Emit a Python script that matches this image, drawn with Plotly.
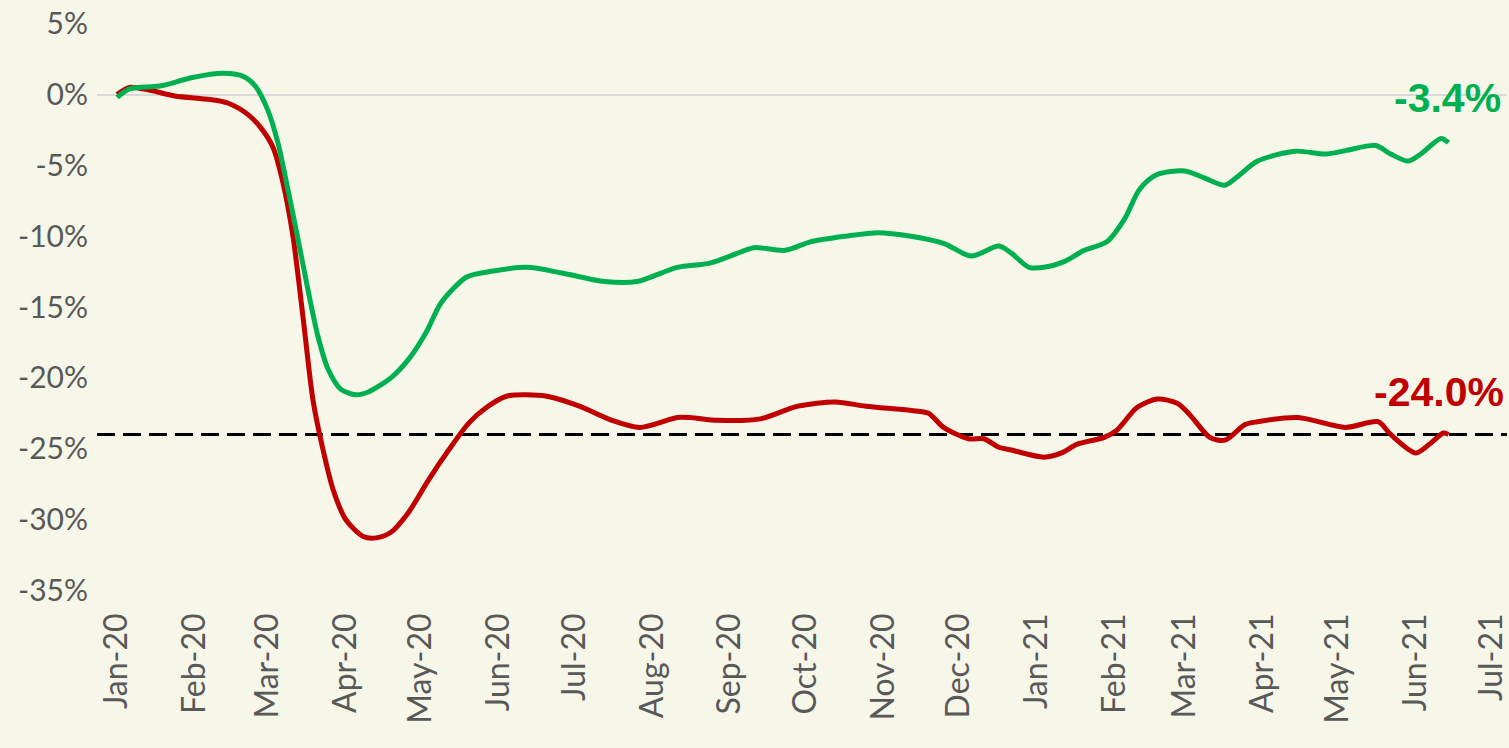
import plotly.graph_objects as go

# ---- data ----
green_dates = ["2020-01-01","2020-01-06","2020-01-18","2020-01-31","2020-02-12","2020-02-20","2020-02-25",
               "2020-03-01","2020-03-05","2020-03-09","2020-03-13","2020-03-17","2020-03-21","2020-03-25",
               "2020-03-30","2020-04-05","2020-04-10","2020-04-19","2020-04-26","2020-05-03","2020-05-09",
               "2020-05-19","2020-05-25","2020-06-12","2020-06-26","2020-07-13","2020-07-26","2020-08-11",
               "2020-08-24","2020-09-07","2020-09-11","2020-09-23","2020-10-03","2020-10-17","2020-10-30",
               "2020-11-12","2020-11-25","2020-12-06","2020-12-17","2020-12-22","2020-12-29","2021-01-04",
               "2021-01-12","2021-01-20","2021-01-29","2021-02-05","2021-02-11","2021-02-18","2021-03-01",
               "2021-03-09","2021-03-17","2021-03-22","2021-03-30","2021-04-14","2021-04-26","2021-05-04",
               "2021-05-16","2021-05-22","2021-05-29","2021-06-03","2021-06-11","2021-06-14"]
green_values = [-0.2,0.4,0.6,1.2,1.5,1.3,0.6,
                -1.1,-3.4,-6.7,-10.2,-13.8,-17.1,-19.4,
                -20.8,-21.2,-21.0,-20.0,-18.7,-16.8,-14.7,
                -12.9,-12.6,-12.2,-12.6,-13.2,-13.2,-12.2,
                -11.9,-11.0,-10.8,-11.0,-10.4,-10.0,-9.75,
                -10.0,-10.5,-11.4,-10.7,-11.2,-12.2,-12.2,
                -11.8,-11.0,-10.4,-8.8,-6.7,-5.65,-5.4,
                -5.9,-6.4,-5.8,-4.7,-4.0,-4.2,-3.96,
                -3.6,-4.2,-4.7,-4.2,-3.1,-3.4]

red_dates = ["2020-01-01","2020-01-06","2020-01-14","2020-01-24","2020-02-07","2020-02-14","2020-02-22",
             "2020-02-27","2020-03-03","2020-03-07","2020-03-11","2020-03-15","2020-03-19","2020-03-23",
             "2020-03-27","2020-04-01","2020-04-08","2020-04-13","2020-04-19","2020-04-26","2020-05-04",
             "2020-05-12","2020-05-20","2020-05-27","2020-06-04","2020-06-20","2020-07-03","2020-07-16",
             "2020-07-27","2020-08-11","2020-08-16","2020-08-27","2020-09-13","2020-09-28","2020-10-13",
             "2020-10-25","2020-11-12","2020-11-19","2020-11-25","2020-12-05","2020-12-11","2020-12-17",
             "2020-12-22","2021-01-04","2021-01-11","2021-01-17","2021-01-28","2021-02-02","2021-02-10",
             "2021-02-18","2021-02-26","2021-03-03","2021-03-11","2021-03-17","2021-03-25","2021-03-30",
             "2021-04-15","2021-05-04","2021-05-17","2021-05-22","2021-06-01","2021-06-07","2021-06-12",
             "2021-06-14"]
red_values = [0.0,0.5,0.3,-0.1,-0.35,-0.6,-1.4,
              -2.3,-3.7,-6.2,-10.0,-15.7,-21.6,-25.1,
              -27.9,-30.0,-31.2,-31.3,-30.9,-29.5,-27.2,
              -25.1,-23.2,-22.1,-21.3,-21.3,-22.0,-23.0,
              -23.5,-22.8,-22.8,-23.0,-22.9,-22.0,-21.7,
              -22.0,-22.3,-22.5,-23.5,-24.3,-24.3,-24.9,
              -25.1,-25.6,-25.3,-24.7,-24.2,-23.7,-22.1,
              -21.5,-21.8,-22.6,-24.2,-24.4,-23.3,-23.1,
              -22.8,-23.5,-23.1,-24.0,-25.3,-24.6,-23.9,
              -24.0]

reference_level = -24.0
green_label = "-3.4%"
red_label = "-24.0%"

y_tick_values = [5, 0, -5, -10, -15, -20, -25, -30, -35]
y_tick_labels = ["5%", "0%", "-5%", "-10%", "-15%", "-20%", "-25%", "-30%", "-35%"]

x_tick_values = ["2020-01-01","2020-02-01","2020-03-01","2020-04-01","2020-05-01","2020-06-01",
                 "2020-07-01","2020-08-01","2020-09-01","2020-10-01","2020-11-01","2020-12-01",
                 "2021-01-01","2021-02-01","2021-03-01","2021-04-01","2021-05-01","2021-06-01",
                 "2021-07-01"]
x_tick_labels = ["Jan-20","Feb-20","Mar-20","Apr-20","May-20","Jun-20","Jul-20","Aug-20","Sep-20",
                 "Oct-20","Nov-20","Dec-20","Jan-21","Feb-21","Mar-21","Apr-21","May-21","Jun-21",
                 "Jul-21"]

GREEN = "#00b050"
RED = "#c00000"
BG = "#f6f6e9"
TICK_COLOR = "#595959"

fig = go.Figure()

fig.add_trace(go.Scatter(x=red_dates, y=red_values, mode="lines",
                         line=dict(color=RED, width=5, shape="spline", smoothing=0.8),
                         hoverinfo="skip", showlegend=False))
fig.add_trace(go.Scatter(x=green_dates, y=green_values, mode="lines",
                         line=dict(color=GREEN, width=5, shape="spline", smoothing=0.8),
                         hoverinfo="skip", showlegend=False))

# dashed reference line across the whole plot
fig.add_shape(type="line", xref="paper", x0=0, x1=1, yref="y", y0=reference_level, y1=reference_level,
              line=dict(color="black", width=3, dash="18px,8px"), layer="below")

fig.add_annotation(x=green_dates[-1], y=green_values[-1], text="<b>%s</b>" % green_label,
                   showarrow=False, xanchor="left", yanchor="middle", yshift=45, xshift=-56,
                   font=dict(family="Liberation Sans", size=41, color=GREEN))
fig.add_annotation(x=red_dates[-1], y=red_values[-1], text="<b>%s</b>" % red_label,
                   showarrow=False, xanchor="left", yanchor="middle", yshift=42, xshift=-76,
                   font=dict(family="Liberation Sans", size=41, color=RED))

fig.update_layout(
    width=1509, height=748,
    paper_bgcolor=BG, plot_bgcolor=BG,
    margin=dict(l=97, r=0, t=23, b=157),
    hovermode=False,
    font=dict(family="Lato, sans-serif", color=TICK_COLOR, size=30),
    xaxis=dict(type="date", range=["2019-12-24", "2021-07-07 07:00"],
               tickmode="array", tickvals=x_tick_values, ticktext=x_tick_labels,
               tickangle=-90, showgrid=False, zeroline=False, showline=False,
               ticks="", ticklabelstandoff=15, ticklabeloverflow="allow",
               tickfont=dict(family="Lato, sans-serif", size=32, color=TICK_COLOR)),
    yaxis=dict(range=[-35.05, 5.05], tickmode="array", tickvals=y_tick_values, ticktext=y_tick_labels,
               showgrid=False, zeroline=True, zerolinecolor="#d9d9d9", zerolinewidth=2,
               showline=False, ticks="", ticklabelstandoff=8,
               tickfont=dict(family="Lato, sans-serif", size=30, color=TICK_COLOR)),
)

fig.write_html("out.html", config={"displayModeBar": False},
               post_script="document.body.style.margin='0';document.body.style.overflow='hidden';"
                           "document.body.style.background='%s';" % BG)
